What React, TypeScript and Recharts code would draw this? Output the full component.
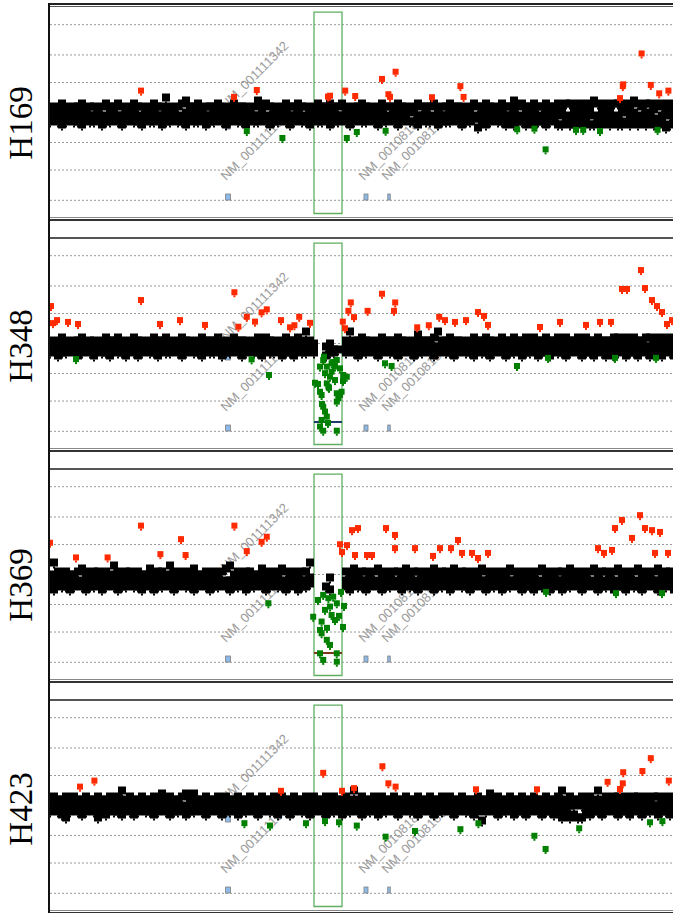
import { ScatterChart, Scatter, XAxis, YAxis, CartesianGrid, ReferenceArea, ReferenceLine } from "recharts";

const N = null;

// probe log-ratio levels (x10), one probe row per position, three rows per sample
const h169Top = [
  2,1,2,3,2,1,2,2,3,1,2,2,1,2,3,2,2,3,2,1,
  2,3,2,2,1,2,3,2,2,5,2,1,2,3,4,2,2,3,1,2,
  2,2,3,2,1,2,3,2,2,2,1,2,4,2,3,2,2,1,2,3,
  2,2,3,2,2,1,2,3,2,2,3,2,2,3,2,1,2,2,3,2,
  2,1,2,3,2,2,2,3,2,2,1,2,3,2,2,2,3,1,2,2,
  3,2,2,2,1,2,3,2,2,3,2,2,1,3,2,2,4,2,3,2,
  2,3,2,2,3,2,2,3,2,3,3,2,3,2,3,2,4,3,2,3,
  2,3,3,2,3,2,4,3,2,3,3,2,3,2,3,2,3,3,2,3,
];
const h169Mid = [
  0,-1,-1,0,-2,0,-1,1,-1,0,-1,-1,0,-2,-1,0,0,-1,-1,0,
  -1,0,-2,-1,0,-1,1,-1,-1,0,-1,0,-1,-2,0,-1,0,-1,0,-1,
  -1,0,0,-1,-2,-1,0,-1,1,-1,0,-1,-1,0,-1,-2,0,-1,0,0,
  -1,-1,0,-2,-1,0,-1,0,-1,1,-1,0,-1,-1,0,-2,-1,0,-1,0,
  0,-1,-1,0,-1,-2,0,-1,0,-1,1,0,-1,-1,0,-1,-2,0,-1,-1,
  0,-1,0,-1,-1,0,-2,-1,0,-1,0,1,-1,0,-1,-1,0,-2,-1,0,
  -1,0,-1,-2,0,-1,1,-1,0,-1,-2,0,-1,0,-1,1,-1,-2,0,-1,
  0,-1,-2,0,1,-1,0,-2,-1,0,-1,1,-2,-1,0,-1,0,-2,1,-1,
];
const h169Low = [
  -3,-2,-3,-4,-3,-2,-3,-3,-4,-2,-3,-3,-2,-4,-3,-3,-2,-3,-4,-3,
  -2,-3,-3,-4,-2,-3,-3,-2,-4,-3,-3,-2,-3,-3,-4,-2,-3,-3,-2,-4,
  -3,-3,-2,-3,-4,-3,-2,-3,-3,-4,-2,-3,-3,-2,-3,-4,-3,-3,-2,-3,
  -4,-3,-2,-3,-3,-4,-2,-3,-3,-2,-4,-3,-3,-2,-3,-4,-3,-2,-3,-3,
  -2,-3,-4,-3,-3,-2,-3,-4,-3,-2,-3,-3,-4,-2,-3,-3,-2,-4,-3,-3,
  -3,-2,-3,-4,-3,-3,-2,-5,-3,-4,-3,-2,-3,-3,-4,-3,-4,-3,-3,-4,
  -3,-4,-3,-3,-4,-3,-2,-4,-4,-3,-4,-4,-3,-4,-3,-4,-4,-3,-4,-3,
  -4,-3,-4,-4,-3,-4,-3,-4,-3,-4,-3,-4,-4,-3,-5,-4,-3,-4,-3,-4,
];

const h348Top = [
  1,0,1,2,1,0,1,1,2,0,1,1,0,1,2,1,1,2,1,0,
  1,2,1,1,0,1,2,1,1,2,1,0,1,2,1,1,0,1,2,1,
  1,1,2,1,0,1,2,1,1,1,0,1,2,1,2,1,1,0,1,2,
  1,1,2,1,4,1,0,N,N,-1,0,-2,-2,N,1,4,1,1,2,1,
  1,0,1,2,1,1,1,2,1,1,0,1,3,1,1,1,2,4,1,1,
  2,1,1,1,0,1,2,1,1,2,1,1,0,2,1,1,2,1,1,2,
  1,2,1,1,2,1,1,2,1,2,1,1,2,1,2,1,1,2,1,1,
  1,2,2,1,2,1,2,1,1,2,2,1,2,1,2,1,2,2,1,2,
];
const h348Mid = [
  -1,-2,-1,0,-2,-1,-1,0,-2,-1,-1,-2,0,-1,-1,-2,-1,0,-1,-2,
  -1,-1,0,-2,-1,-1,0,-1,-2,-1,0,-1,-2,-1,-1,0,-1,-2,-1,-1,
  0,-1,-2,-1,-1,0,-2,-1,-1,0,-1,-2,-1,0,-1,-1,-2,-1,0,-1,
  -1,-2,-1,0,-1,-2,-1,N,N,-4,-3,-3,N,N,-1,-2,-1,0,-1,-2,
  -1,-1,0,-2,-1,-1,0,-1,-2,-1,0,-1,-1,-2,-1,0,-1,-1,-2,-1,
  0,-1,-1,-2,-1,0,-1,-2,-1,-1,0,-1,-2,-1,0,-1,-1,-2,-1,0,
  -1,-2,-1,0,-1,-1,-2,-1,0,-1,-2,-1,-1,0,-1,-2,-1,-1,0,-1,
  -2,-1,0,-1,-2,-1,-1,0,-2,-1,-1,0,-1,-2,-1,0,-1,-2,-1,-1,
];
const h348Low = [
  -3,-2,-4,-3,-3,-2,-3,-4,-3,-2,-3,-4,-2,-3,-3,-4,-2,-3,-3,-4,
  -2,-3,-4,-3,-2,-3,-3,-4,-2,-3,-3,-2,-3,-4,-3,-2,-3,-3,-4,-2,
  -3,-3,-2,-4,-3,-3,-2,-3,-4,-3,-2,-3,-3,-4,-2,-3,-3,-2,-4,-3,
  -3,-4,-2,-3,-3,-2,-3,N,N,N,N,N,N,N,-3,-2,-3,-4,-3,-3,
  -2,-3,-4,-3,-2,-3,-3,-4,-3,-2,-3,-4,-3,-3,-2,-3,-4,-3,-2,-3,
  -3,-4,-3,-2,-3,-3,-4,-2,-3,-3,-4,-3,-2,-3,-4,-3,-3,-2,-4,-3,
  -3,-2,-4,-3,-3,-4,-2,-3,-3,-4,-3,-2,-3,-4,-3,-3,-4,-2,-3,-4,
  -3,-4,-3,-2,-4,-3,-3,-4,-2,-3,-4,-3,-3,-4,-2,-3,-4,-3,-3,-4,
];

const h369Top = [
  0,4,1,0,1,0,0,1,2,1,0,1,1,0,1,0,3,1,0,1,
  1,0,1,0,0,2,0,1,1,0,3,1,0,1,0,1,2,0,0,1,
  0,1,0,1,2,3,0,1,0,1,1,0,0,2,1,0,1,0,2,1,
  0,1,0,1,1,4,N,N,N,N,-1,N,N,N,1,0,2,0,1,1,
  0,1,2,0,1,0,1,1,0,2,0,1,1,0,1,0,2,0,1,1,
  0,2,0,1,1,0,1,0,2,1,0,1,0,1,0,2,1,0,1,0,
  1,0,1,2,0,1,0,1,1,0,2,1,0,1,0,1,2,0,1,1,
  0,1,2,0,1,0,1,2,0,1,0,1,2,0,1,1,0,2,0,1,
];
const h369Mid = [
  -2,-1,-2,-3,-2,-1,-2,-2,-3,-1,-2,-2,-1,-3,-2,-2,-1,-2,-3,-2,
  -1,-2,-3,-2,-1,-2,-2,-3,-1,-2,-2,-1,-2,-3,-2,-1,-2,-2,-3,-1,
  -2,-2,-1,-3,-2,-2,-1,-2,-3,-2,-1,-2,-2,-3,-1,-2,-2,-1,-3,-2,
  -2,-3,-1,-2,-2,-1,N,N,N,-4,-5,N,N,N,-2,-1,-2,-3,-2,-2,
  -1,-2,-3,-2,-1,-2,-2,-3,-2,-1,-2,-3,-2,-2,-1,-2,-3,-2,-1,-2,
  -2,-3,-2,-1,-2,-2,-3,-1,-2,-2,-3,-2,-1,-2,-3,-2,-2,-1,-3,-2,
  -2,-1,-3,-2,-2,-3,-1,-2,-2,-3,-2,-1,-2,-3,-2,-2,-3,-1,-2,-3,
  -2,-3,-2,-1,-3,-2,-2,-3,-1,-2,-3,-2,-2,-3,-1,-2,-3,-2,-2,-3,
];
const h369Low = [
  -4,-5,-3,-4,-4,-5,-4,-3,-4,-5,-4,-4,-3,-5,-4,-3,-4,-5,-4,-4,
  -3,-4,-4,-5,-3,-4,-5,-4,-4,-3,-4,-5,-4,-3,-4,-4,-5,-4,-3,-4,
  -5,-4,-4,-3,-4,-5,-4,-4,-3,-5,-4,-4,-3,-4,-5,-4,-3,-4,-4,-5,
  -4,-3,-5,-4,-4,-3,N,N,N,N,N,N,N,N,-4,-5,-3,-4,-4,-5,
  -4,-3,-4,-5,-4,-4,-3,-4,-5,-3,-4,-4,-5,-4,-3,-4,-5,-4,-4,-3,
  -5,-4,-3,-4,-4,-5,-4,-3,-4,-5,-4,-4,-3,-5,-4,-4,-3,-4,-5,-4,
  -4,-5,-3,-4,-4,-5,-4,-3,-5,-4,-4,-3,-4,-5,-4,-3,-4,-5,-4,-4,
  -3,-5,-4,-4,-5,-3,-4,-4,-5,-4,-3,-4,-5,-4,-4,-3,-5,-4,-4,-5,
];

const h423Top = [
  2,3,2,2,3,2,3,2,2,3,2,2,3,2,2,3,2,3,5,2,
  3,2,2,3,2,2,3,2,4,2,3,2,2,3,4,2,4,2,2,3,
  2,2,3,2,3,2,2,3,2,2,3,2,2,3,2,2,3,2,3,2,
  2,3,2,2,3,2,3,2,2,3,2,3,2,2,3,2,5,2,3,2,
  2,3,2,3,2,2,3,2,2,3,2,2,3,2,2,3,2,2,3,2,
  3,2,2,3,2,2,2,3,2,2,4,2,3,2,2,3,2,2,3,2,
  2,3,2,2,3,2,2,3,5,2,3,2,2,3,2,3,2,5,2,3,
  2,3,3,2,3,2,3,3,2,3,2,3,3,2,3,2,3,2,3,3,
];
const h423Mid = [
  1,0,0,1,-1,0,1,0,0,-1,1,0,0,1,0,-1,0,1,0,0,
  0,1,-1,0,1,0,0,-1,1,0,0,1,0,-1,0,1,0,0,1,-1,
  0,0,1,0,-1,0,1,0,0,1,-1,0,0,1,0,0,-1,1,0,0,
  1,0,-1,0,0,1,0,-1,0,1,0,0,1,-1,0,0,1,0,0,-1,
  0,1,0,0,-1,1,0,0,1,0,-1,0,0,1,0,0,1,-1,0,0,
  1,0,0,-1,0,1,0,0,-1,1,0,0,1,0,-1,0,0,1,0,0,
  -1,0,1,0,0,-1,0,1,0,-1,0,0,1,0,-1,0,1,0,0,-1,
  0,1,0,-1,0,0,1,0,-1,0,1,0,0,-1,0,1,0,-1,0,0,
];
const h423Low = [
  -2,-1,-2,-3,-4,-2,-1,-2,-3,-2,-1,-2,-4,-2,-3,-1,-2,-2,-3,-1,
  -2,-3,-2,-1,-2,-2,-3,-2,-1,-2,-3,-2,-2,-1,-3,-2,-2,-1,-2,-3,
  -2,-1,-2,-3,-2,-2,-1,-3,-2,-2,-1,-2,-3,-2,-1,-2,-2,-3,-1,-2,
  -3,-2,-1,-2,-2,-3,-2,-1,-2,-3,-2,-2,-1,-3,-2,-2,-1,-2,-3,-2,
  -2,-1,-3,-2,-2,-1,-2,-3,-2,-1,-2,-2,-3,-2,-1,-2,-3,-2,-2,-1,
  -2,-3,-2,-1,-2,-2,-3,-2,-5,-2,-1,-2,-3,-2,-2,-1,-3,-2,-2,-3,
  -2,-1,-2,-3,-2,-2,-3,-2,-4,-3,-4,-3,-4,-4,-2,-3,-2,-2,-3,-2,
  -1,-2,-3,-2,-2,-3,-1,-2,-3,-2,-2,-1,-3,-2,-2,-3,-2,-1,-2,-3,
];

// called gains (red) and losses (green): [position, level]
const h169Gain = [[22.75,7.3],[46,5.2],[51.7,7.5],[69.5,5.3],[70,5.6],[73.8,7.3],[76.3,5.5],[83,11.2],[86.4,13.6],[84.6,6.1],[85,5.2],[95.5,5.1],[102.6,8.8],[103.4,5.2],[142.5,4.8],[143.2,8.8],[143.3,9.4],[147.9,19.7],[150.2,9.2],[152.3,6.4],[154.6,7.3]];
const h169Loss = [[49.2,-6.2],[58.1,-8.5],[74.2,-8.5],[76.7,-6.5],[83.9,-6.1],[116.8,-5.6],[121.1,-5.4],[123.9,-12.3],[131.5,-5.8],[133.3,-5.8],[137.5,-6.2],[151.9,-5.8]];

const h348Gain = [[0.25,12.5],[0.75,6.8],[1.75,7.8],[4.5,7.2],[7,6.5],[22.75,14.5],[27.5,6.5],[32.5,7.8],[38.75,6.2],[46.1,17.1],[47.1,5.6],[49.2,8.9],[51.25,7.3],[52.9,10.4],[54.2,11.4],[57.75,7.8],[60,5.4],[61.1,6.1],[62.3,8.9],[65,6.9],[73.2,7.3],[73.75,5.1],[74.6,10.9],[75.2,13.7],[76,8.8],[79.4,10.9],[83,16.6],[86.3,13.7],[86,10.9],[91.8,5.4],[94.7,6.1],[97.3,8.9],[98.75,7.8],[101.25,7.2],[104,7.8],[107,10.5],[108.5,9.2],[109.5,6.2],[122.5,5.5],[127.5,7.2],[134,6.2],[137.5,7.2],[140.25,7.2],[143,18.2],[144.25,18.2],[147.75,24.5],[148.75,18.5],[150.5,14.5],[151.75,12.5],[153,10.5],[154.25,6.5],[155.5,7.8]];
const h348Loss = [[6.5,-5.2],[50.4,-5.3],[54.75,-10.5],[83.75,-6.6],[85.4,-7.5],[116.75,-7.5],[124.5,-4.8],[141.25,-4.8],[151.5,-4.8],[68.3,-5.5],[69.2,-7.7],[70.4,-6.6],[71.7,-5.5],[72.5,-8.3],[68.75,-9.9],[70,-11.1],[71.25,-12.2],[73.3,-10.5],[74.2,-11.1],[66.25,-13.1],[69.2,-13.3],[69.6,-14.4],[67.5,-16.1],[67.9,-17.2],[71.7,-16.6],[72.9,-16.1],[72.1,-18.3],[71.7,-19.4],[68.3,-21.1],[68.75,-22.7],[69.2,-24.4],[67.9,-25.5],[67.5,-27.7],[68.3,-29.1],[71.7,-29.1],[71.25,-7.7],[70.4,-9.4],[67.5,-7.7],[68.5,-4.4],[69.75,-14.8],[70.75,-6.2],[67,-13.5],[73.25,-12.5],[72.5,-17.2],[68,-20.2],[69.5,-26.5]];

const h369Gain = [[0,10.6],[6.5,5.7],[14.4,5.7],[22.75,16.3],[27.6,6.8],[32.75,11.8],[33.9,6.5],[46.1,16.3],[49.2,7.8],[52.9,10.9],[54.2,12.6],[72.5,10.1],[73,7.5],[74.25,9.8],[75.5,14.8],[77,15.5],[76.25,6.5],[79.25,6.5],[80.5,6.5],[84,15.5],[86.25,13.2],[86.25,8.8],[91.25,8.8],[95.75,6.2],[97.5,8.8],[100.25,8.8],[102,11.5],[103,7.2],[105.5,7.2],[107,5.5],[109.5,7.2],[137,8.8],[138.5,7.2],[140.5,8.2],[141.25,15.5],[143,18.2],[145.5,12.2],[147.5,19.8],[148.75,15.5],[150.5,14.8],[151.25,7.2],[152.5,14.2],[154.5,7.2]];
const h369Loss = [[54.6,-9.6],[124,-5.8],[141.5,-6.2],[153,-6.2],[68.3,-6.8],[69.6,-7.9],[70.8,-7.4],[71.7,-9.6],[65.8,-14.1],[67.9,-15.7],[68.75,-11.8],[70.4,-13.5],[71.25,-15.2],[67.5,-18.5],[67.9,-19.6],[69.2,-21.8],[67.5,-26.3],[68.3,-28.5],[71.7,-26.3],[71.7,-29.1],[70,-10.7],[72.75,-5.8],[73.5,-10.5],[72.25,-13.8],[73.25,-17.5],[67,-8.5],[69.25,-17.8],[70,-23.5]];

const h423Gain = [[7.5,6.3],[11.1,8.3],[57.75,4.9],[68.3,10.9],[73,4.9],[76,5.8],[83.1,13.1],[84.6,7.4],[86.4,6.3],[106.5,5.4],[121.75,5.4],[139.4,7.9],[142.5,5.5],[143.2,7.4],[143.3,11.1],[148.1,11.5],[150.2,15.8],[154.7,8.3]];
const h423Loss = [[48.6,-5.9],[55,-6.7],[64,-5.9],[68.75,-5.2],[72.25,-5.6],[76.7,-6.7],[83.9,-10.4],[91.25,-8.5],[102.6,-7.9],[107.1,-5.9],[121.1,-10.1],[123.9,-14.5],[132.3,-7.6],[150,-5.6],[153.1,-5.2]];

// genes in the window
const geneNames = ["NM_001111342", "NM_001111132", "NM_001081863", "NM_001081869"];
const genePos = [44.5, 44.5, 79, 84.75];
const geneLevel = [-4.5, -28.2, -28.2, -28.2];
const geneSpan = [1.2, 1.2, 1, 0.6];

const gridLevels = [-29.3, -26.2, -19.2, -10, 0, 10, 19.2, 26.2, 29.3];
const regionStart = 66;
const regionEnd = 73;
const segmentLevel = -26.2;

const X_MAX = 156;
const Y_LIM = 35.2;
const PLOT_W = 624;
const PLOT_H = 211;
const PX_PER_X = PLOT_W / X_MAX;

const toPoints = (vals: (number | null)[]) => {
  const pts: { x: number; y: number }[] = [];
  vals.forEach((v, i) => {
    if (v !== null) pts.push({ x: i, y: v });
  });
  return pts;
};
const pairs = (arr: number[][]) => arr.map(([x, y]) => ({ x, y }));

const genes = geneNames.map((name, i) => ({ x: genePos[i], y: geneLevel[i], name, span: geneSpan[i] }));

const panels = [
  { name: "H169", top: 7, labelY: 123, band: [h169Top, h169Mid, h169Low], gain: h169Gain, loss: h169Loss, seg: null },
  { name: "H348", top: 238, labelY: 346, band: [h348Top, h348Mid, h348Low], gain: h348Gain, loss: h348Loss, seg: "#1f3d6b" },
  { name: "H369", top: 469, labelY: 585, band: [h369Top, h369Mid, h369Low], gain: h369Gain, loss: h369Loss, seg: "#7b3a1c" },
  { name: "H423", top: 700, labelY: 809, band: [h423Top, h423Mid, h423Low], gain: h423Gain, loss: h423Loss, seg: null },
];

// square marker with the little tip under it, as the array viewer draws them
const square = (color: string, s: number) => (p: any) => (
  <g>
    <rect x={p.cx - s / 2} y={p.cy - s / 2} width={s} height={s} fill={color} />
    <rect x={p.cx - 1} y={p.cy + s / 2} width={2} height={2} fill={color} />
  </g>
);

const GeneMark = (p: any) => {
  const w = Math.max(p.payload.span * PX_PER_X, 2.5);
  const tx = p.cx - 2;
  const ty = p.cy - 16;
  return (
    <g>
      <text x={tx} y={ty} transform={`rotate(-45 ${tx} ${ty})`} fontSize={13} fill="#9c9c9c"
        fontFamily="'Liberation Sans', Arial, sans-serif">{p.payload.name}</text>
      <rect x={p.cx - w / 2} y={p.cy - 3} width={w} height={6} fill="#8dbbe9" stroke="#7d7d7d" strokeWidth={0.8} />
    </g>
  );
};

function Panel({ p }: { p: (typeof panels)[number] }) {
  const black = p.band.flatMap(toPoints);
  return (
    <ScatterChart width={PLOT_W} height={PLOT_H} margin={{ top: 0, right: 0, bottom: 0, left: 0 }}>
      <XAxis type="number" dataKey="x" domain={[0, X_MAX]} hide allowDataOverflow />
      <YAxis type="number" dataKey="y" domain={[-Y_LIM, Y_LIM]} ticks={gridLevels} hide allowDataOverflow />
      <CartesianGrid vertical={false} horizontalValues={gridLevels} stroke="#999" strokeDasharray="2 2" />
      <Scatter data={genes} shape={GeneMark} isAnimationActive={false} />
      <Scatter data={black} shape={square("#000", 8)} isAnimationActive={false} />
      <Scatter data={pairs(p.gain)} shape={square("#ff2a00", 6)} isAnimationActive={false} />
      <Scatter data={pairs(p.loss)} shape={square("#008000", 6)} isAnimationActive={false} />
      <ReferenceArea x1={regionStart} x2={regionEnd} y1={-33.7} y2={33.5} fill="none" stroke="#5fae5f" strokeWidth={1.3} />
      {p.seg && (
        <ReferenceLine segment={[{ x: regionStart, y: segmentLevel }, { x: regionEnd, y: segmentLevel }]}
          stroke={p.seg} strokeWidth={2} />
      )}
    </ScatterChart>
  );
}

const hLine = (top: number, h: number, color: string) => (
  <div key={`l${top}`} style={{ position: "absolute", left: 48, top, width: 640, height: h, background: color }} />
);

export default function App() {
  const lines = [hLine(3, 2, "#222"), hLine(6, 1, "#555")];
  panels.forEach((p, i) => {
    lines.push(hLine(p.top + 210, 1, "#888"));
    lines.push(hLine(p.top + 212, 1.5, "#333"));
    if (i < panels.length - 1) lines.push(hLine(panels[i + 1].top - 1, 1.5, "#555"));
  });
  return (
    <div style={{ position: "fixed", left: 0, top: 0, width: 673, height: 913, overflow: "hidden", background: "#fff" }}>
      {panels.map((p) => (
        <div key={p.name} style={{ position: "absolute", left: 50, top: p.top }}>
          <Panel p={p} />
        </div>
      ))}
      {lines}
      <div style={{ position: "absolute", left: 48, top: 3, width: 2, height: 910, background: "#111" }} />
      <svg width={48} height={913} style={{ position: "absolute", left: 0, top: 0 }}>
        {panels.map((p) => (
          <text key={p.name} x={31.5} y={p.labelY} transform={`rotate(-90 31.5 ${p.labelY})`} textAnchor="middle"
            fontSize={33} fontFamily="'Liberation Serif', 'Times New Roman', serif" fill="#000">{p.name}</text>
        ))}
      </svg>
    </div>
  );
}
